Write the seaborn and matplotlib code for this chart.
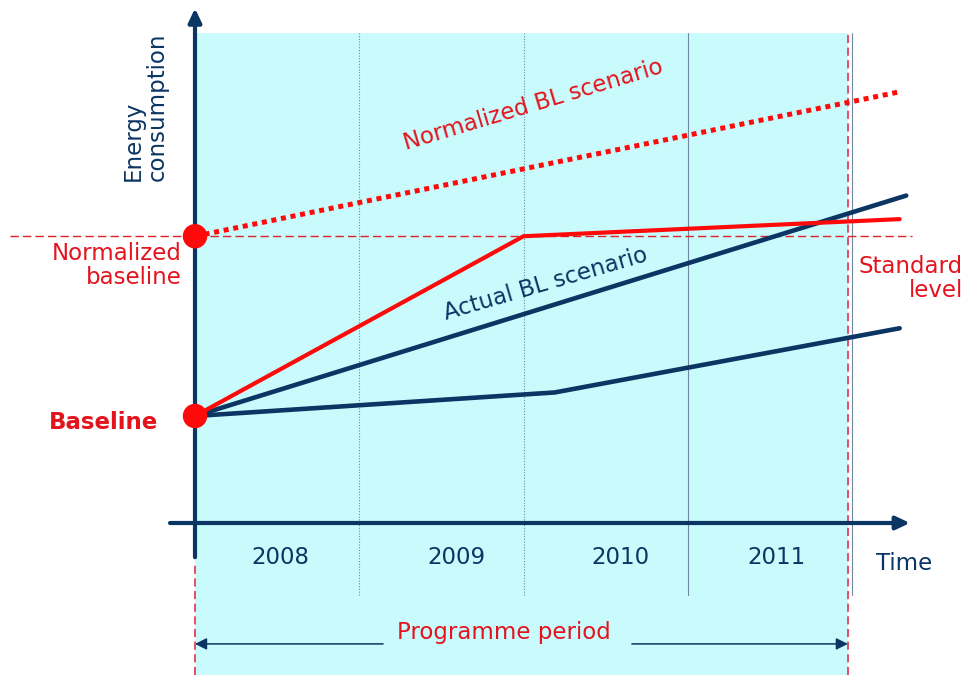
import matplotlib
matplotlib.use("Agg")
import matplotlib.pyplot as plt
import seaborn as sns
import pandas as pd

# ---------------- data (conceptual chart, arbitrary energy units) ----------------
baseline = 100
normalized_baseline = 268

norm_bl_years = [2008.0, 2012.29]
norm_bl_values = [268, 403]            # Normalized BL scenario (dotted red)

standard_years = [2008.0, 2010.0, 2012.29]
standard_values = [100, 268, 284]      # red solid line

actual_years = [2008.0, 2012.33]
actual_values = [100, 306]             # Actual BL scenario (navy)

lower_years = [2008.0, 2010.19, 2012.29]
lower_values = [100, 122, 182]         # lower navy line

year_labels = ["2008", "2009", "2010", "2011"]
year_label_x = [2008.52, 2009.59, 2010.59, 2011.54]
year_dividers = [2009.0, 2010.0, 2011.0, 2012.0]
programme_start = 2008.0
programme_end = 2011.975

# ---------------- style ----------------
navy = "#0b3563"
red = "#ff0a0a"
text_red = "#e3141e"
cyan = "#c9fbfc"
grid_col = "#6f88a0"

sns.set_theme(style="white")
plt.rcParams["font.family"] = ["DejaVu Sans"]
FS = 16.5

fig = plt.figure(figsize=(9.76, 6.75), dpi=100)
ax = fig.add_axes([0, 0, 1, 1])
ax.set_axis_off()
ax.set_xlim(2006.8128, 2012.7549)
ax.set_ylim(-142.06, 488.79)

y_top_band = 458
y_div_bottom = -67
y_axis_bottom = -32

# cyan programme band
ax.axvspan(programme_start, programme_end, ymin=0, ymax=(y_top_band + 142.06) / (488.79 + 142.06),
           color=cyan, zorder=0, lw=0)

# year dividers
for i, xd in enumerate(year_dividers):
    ls = (0, (1, 1.5)) if i < 2 else "-"
    ax.plot([xd, xd], [y_div_bottom, y_top_band], color=grid_col, lw=0.8, ls=ls, zorder=1)

# red dashed reference lines
ax.plot([2006.874, 2012.366], [normalized_baseline, normalized_baseline], color="#de2228",
        lw=1.0, ls=(0, (6, 3)), zorder=2)
ax.plot([programme_end, programme_end], [-142, y_top_band], color="#e5405a",
        lw=1.3, ls=(0, (4.5, 2.5)), zorder=2)
ax.plot([programme_start, programme_start], [-142, y_axis_bottom - 4], color="#e5405a",
        lw=1.3, ls=(0, (4.5, 2.5)), zorder=2)

# axes arrows
ax.annotate("", xy=(2008.0, 481), xytext=(2008.0, y_axis_bottom),
            arrowprops=dict(arrowstyle="-|>,head_length=0.55,head_width=0.26", color=navy,
                            lw=3, mutation_scale=15, shrinkA=0, shrinkB=0), zorder=3)
ax.annotate("", xy=(2012.353, 0), xytext=(2007.848, 0),
            arrowprops=dict(arrowstyle="-|>,head_length=0.55,head_width=0.26", color=navy,
                            lw=3, mutation_scale=15, shrinkA=0, shrinkB=0), zorder=3)

# data lines
sns.lineplot(x=norm_bl_years, y=norm_bl_values, ax=ax, color=red, lw=3.6,
             linestyle=(0, (1, 0.95)), estimator=None, zorder=4)
sns.lineplot(x=lower_years, y=lower_values, ax=ax, color=navy, lw=3.3, estimator=None, zorder=4)
sns.lineplot(x=actual_years, y=actual_values, ax=ax, color=navy, lw=3.3, estimator=None, zorder=4)
sns.lineplot(x=standard_years, y=standard_values, ax=ax, color=red, lw=3.0, estimator=None, zorder=5)

pts = pd.DataFrame({"x": [2008.0, 2008.0], "y": [baseline, normalized_baseline]})
sns.scatterplot(data=pts, x="x", y="y", ax=ax, color=red, s=310, edgecolor="none", zorder=6)

# texts
ax.text(2007.696, 388.8, "Energy\nconsumption", rotation=90, ha="center", va="center",
        multialignment="left", color=navy, fontsize=FS, linespacing=1.05)
ax.text(2007.921, 240.7, "Normalized\nbaseline", ha="right", va="center", color=text_red,
        fontsize=FS, linespacing=1.05)
ax.text(2007.775, 93.5, "Baseline", ha="right", va="center", color=text_red, fontsize=FS,
        fontweight="bold")
ax.text(2012.676, 228.5, "Standard\nlevel", ha="right", va="center", color=text_red,
        fontsize=FS, linespacing=1.05, multialignment="right")
ax.text(2010.058, 390.7, "Normalized BL scenario", rotation=16.7, ha="center", va="center",
        color=text_red, fontsize=FS)
ax.text(2010.137, 223.4, "Actual BL scenario", rotation=16.3, ha="center", va="center",
        color=navy, fontsize=FS)

for lab, xl in zip(year_labels, year_label_x):
    ax.text(xl, -32.7, lab, ha="center", va="center", color=navy, fontsize=FS)
ax.text(2012.317, -38.3, "Time", ha="center", va="center", color=navy, fontsize=FS)

ax.text(2009.881, -102.8, "Programme period", ha="center", va="center", color=text_red, fontsize=FS)
ax.annotate("", xy=(programme_start, -113), xytext=(2009.145, -113),
            arrowprops=dict(arrowstyle="-|>,head_length=0.5,head_width=0.25", color=navy,
                            lw=1.1, mutation_scale=14, shrinkA=0, shrinkB=0))
ax.annotate("", xy=(programme_end, -113), xytext=(2010.66, -113),
            arrowprops=dict(arrowstyle="-|>,head_length=0.5,head_width=0.25", color=navy,
                            lw=1.1, mutation_scale=14, shrinkA=0, shrinkB=0))

fig.savefig("out.png", dpi=100, facecolor="white")
